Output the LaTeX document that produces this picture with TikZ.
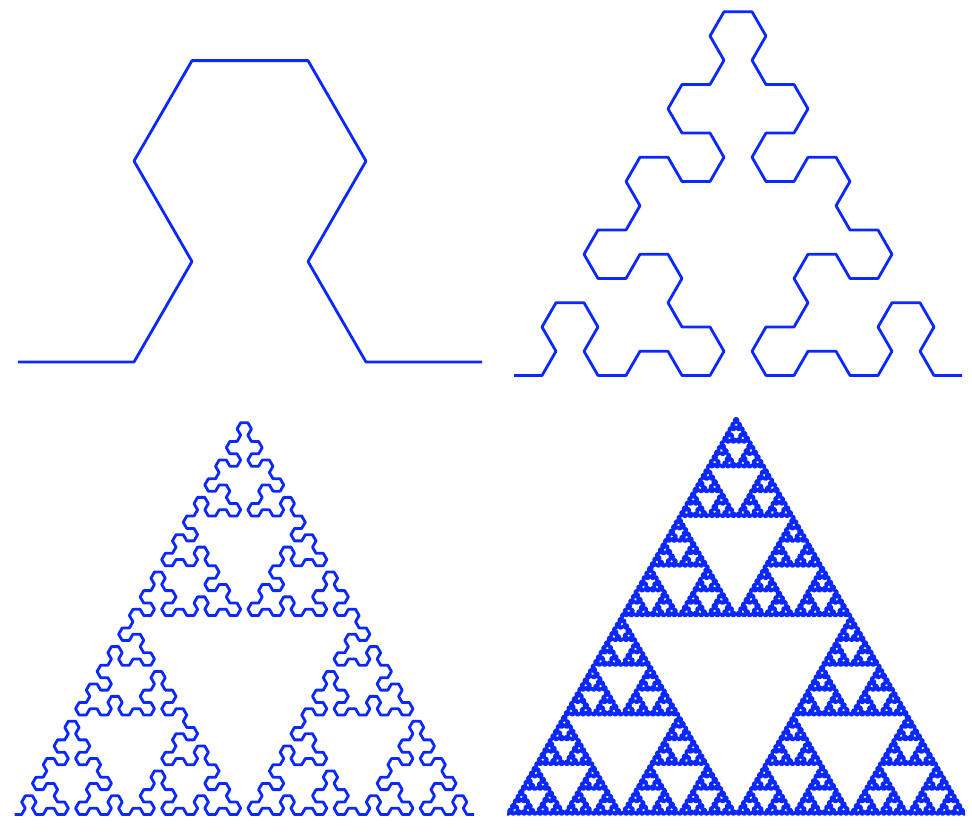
\documentclass[tikz,border=0pt]{standalone}
\usetikzlibrary{lindenmayersystems}
\definecolor{curveblue}{RGB}{10,40,255}
\pgfdeclarelindenmayersystem{Arrowhead}{
  \symbol{A}{\pgflsystemdrawforward}
  \symbol{B}{\pgflsystemdrawforward}
  \rule{A -> B-A-B}
  \rule{B -> A+B+A}
}
\begin{document}
\begin{tikzpicture}[x=1pt,y=1pt,
  curve/.style={draw=curveblue, line width=2.8pt, line join=round, line cap=butt}]
\useasboundingbox (0,0) rectangle (972,832);
\begin{scope}[shift={(18,470)}]
\coordinate (s1) at (0,0);
\draw[curve, l-system={Arrowhead, axiom=A, order=2, step=116pt, angle=60}] (s1) lindenmayer system;
\end{scope}
\begin{scope}[shift={(514,456.5)}]
\coordinate (s2) at (0,0);
\draw[curve, l-system={Arrowhead, axiom=A, order=4, step=28pt, angle=60}] (s2) lindenmayer system;
\end{scope}
\begin{scope}[shift={(14.5,17.5)}]
\coordinate (s3) at (0,0);
\draw[curve, l-system={Arrowhead, axiom=A, order=6, step=7.18pt, angle=60}] (s3) lindenmayer system;
\end{scope}
\begin{scope}[shift={(507,18)}]
\coordinate (s4) at (0,0);
\draw[curve, line width=3.1pt, l-system={Arrowhead, axiom=A, order=8, step=1.79pt, angle=60}] (s4) lindenmayer system;
\end{scope}
\end{tikzpicture}
\end{document}
